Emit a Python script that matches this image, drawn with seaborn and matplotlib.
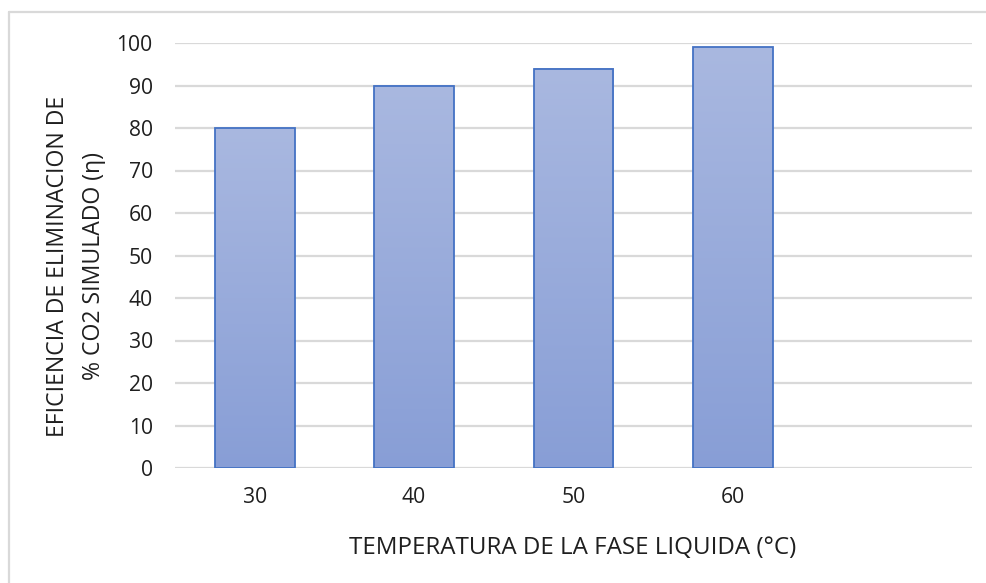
import numpy as np
import pandas as pd
import matplotlib
matplotlib.use("Agg")
import matplotlib.pyplot as plt
from matplotlib.colors import LinearSegmentedColormap
from matplotlib.lines import Line2D
import seaborn as sns

# Data
temperatures = ["30", "40", "50", "60"]
efficiency = [80, 90, 94, 99]
y_ticks = [0, 10, 20, 30, 40, 50, 60, 70, 80, 90, 100]

x_title = "TEMPERATURA DE LA FASE LIQUIDA (°C)"
y_title = "EFICIENCIA DE ELIMINACION DE\n% CO2 SIMULADO (η)"

sns.set_theme(style="white")
plt.rcParams["font.family"] = ["Open Sans", "DejaVu Sans"]

text_color = "#1F1F1F"
grid_color = "#D9D9D9"
edge_color = "#4472C4"
tick_fs = 15.2
title_fs = 16.6

df = pd.DataFrame({"temp": temperatures, "eff": efficiency})

fig = plt.figure(figsize=(9.87, 5.83), dpi=100)
ax = fig.add_axes([175 / 987, 1 - 468 / 583, (972 - 175) / 987, (468 - 43) / 583])

sns.barplot(data=df, x="temp", y="eff", order=temperatures, ax=ax,
            width=0.5, color="#99ACDC", edgecolor=edge_color, linewidth=1.3,
            errorbar=None, saturation=1, zorder=3)

# vertical gradient fill inside each bar
cmap = LinearSegmentedColormap.from_list("barfill", ["#889ED6", "#A9B8E0"])
grad = np.linspace(0, 1, 256).reshape(-1, 1)
for patch in ax.patches:
    x0, y0 = patch.get_x(), patch.get_y()
    w, h = patch.get_width(), patch.get_height()
    ax.imshow(grad, cmap=cmap, origin="lower", aspect="auto",
              extent=(x0, x0 + w, y0, y0 + h), zorder=2.5, interpolation="bicubic")
    patch.set_facecolor("none")

ax.set_xlim(-0.5, 4.5)
ax.set_ylim(0, 100)
ax.set_yticks(y_ticks)
ax.set_yticklabels([str(v) for v in y_ticks])
for v in y_ticks:
    ax.axhline(v, color=grid_color, lw=1.6, zorder=1)
ax.grid(False)
for s in ax.spines.values():
    s.set_visible(False)
ax.tick_params(axis="y", length=0, pad=16, labelsize=tick_fs, labelcolor=text_color)
ax.tick_params(axis="x", length=0, pad=14, labelsize=tick_fs, labelcolor=text_color)
ax.set_xlabel("")
ax.set_ylabel("")

fig.text(573 / 987, 1 - 548 / 583, x_title, ha="center", va="center",
         fontsize=17.4, color=text_color)
fig.text(76 / 987, 1 - 266 / 583, y_title, ha="center", va="center",
         rotation=90, multialignment="center", linespacing=1.7,
         fontsize=title_fs, color=text_color)

# chart area border (top and left edges)
fig.add_artist(Line2D([9 / 987, 1], [1 - 12 / 583, 1 - 12 / 583],
                      transform=fig.transFigure, color=grid_color, lw=1.6))
fig.add_artist(Line2D([9 / 987, 9 / 987], [0, 1 - 12 / 583],
                      transform=fig.transFigure, color=grid_color, lw=1.6))

fig.savefig("out.png", dpi=100, facecolor="white")
